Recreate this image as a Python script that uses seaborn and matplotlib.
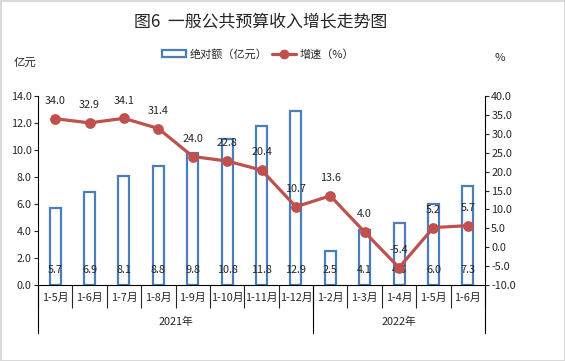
import numpy as np
import pandas as pd
import matplotlib
matplotlib.use("Agg")
import matplotlib.pyplot as plt
import matplotlib.transforms as mtransforms
from matplotlib.patches import Patch
from matplotlib.lines import Line2D
import seaborn as sns

# data
periods = ["1-5月", "1-6月", "1-7月", "1-8月", "1-9月", "1-10月", "1-11月", "1-12月",
           "1-2月", "1-3月", "1-4月", "1-5月", "1-6月"]
years = ["2021年", "2022年"]
year_counts = [8, 5]
amount = [5.7, 6.9, 8.1, 8.8, 9.8, 10.8, 11.8, 12.9, 2.5, 4.1, 4.6, 6.0, 7.3]
growth = [34.0, 32.9, 34.1, 31.4, 24.0, 22.8, 20.4, 10.7, 13.6, 4.0, -5.4, 5.2, 5.7]

# unique keys so repeated month labels stay separate categories
keys = [f"{i}" for i in range(len(periods))]
df = pd.DataFrame({"key": keys, "amount": amount, "growth": growth})

sns.set_style("ticks")
plt.rcParams["font.family"] = ["Noto Sans CJK SC", "DejaVu Sans"]
plt.rcParams["axes.unicode_minus"] = False

blue = "#4A7EBB"
red = "#C0504D"
fs = 7.8

fig = plt.figure(figsize=(5.65, 3.61), dpi=100)
fig.patch.set_edgecolor("#D9D9D9")
fig.patch.set_linewidth(2)
ax = fig.add_axes([0.0673, 0.2105, 0.7911, 0.5235])

# hollow bars
sns.barplot(data=df, x="key", y="amount", ax=ax, fill=False, color=blue,
            width=0.32, linewidth=1.6, errorbar=None)
for p in ax.patches:
    p.set_edgecolor(blue)

ax2 = ax.twinx()
sns.pointplot(data=df, x="key", y="growth", ax=ax2, color=red, markers="o",
              linestyles="-", linewidth=2.3, markersize=6, errorbar=None)

n = len(periods)
ax.set_xlim(-0.5, n - 0.5)
ax2.set_xlim(-0.5, n - 0.5)
ax.set_ylim(0, 14)
ax2.set_ylim(-10, 40)
ax.set_yticks(np.arange(0, 14.1, 2))
ax2.set_yticks(np.arange(-10, 40.1, 5))
ax.yaxis.set_major_formatter(matplotlib.ticker.FormatStrFormatter("%.1f"))
ax2.yaxis.set_major_formatter(matplotlib.ticker.FormatStrFormatter("%.1f"))
ax.set_xlabel("")
ax.set_ylabel("")
ax2.set_xlabel("")
ax2.set_ylabel("")

for a in (ax, ax2):
    a.spines["top"].set_visible(False)
    for s in a.spines.values():
        s.set_linewidth(0.8)
        s.set_color("black")
    a.tick_params(axis="y", labelsize=fs, length=3, width=0.8, pad=1.5)
ax2.spines["left"].set_visible(False)
ax2.spines["bottom"].set_visible(False)
ax.spines["right"].set_visible(False)

# category axis: labels and separators
ax.set_xticks(range(n))
ax.set_xticklabels(periods)
ax.tick_params(axis="x", which="major", length=0, labelsize=fs, pad=6)
ax.set_xticks(np.arange(-0.5, n, 1), minor=True)
ax.tick_params(axis="x", which="minor", length=16.5, width=0.8, direction="out")

trans = mtransforms.blended_transform_factory(ax.transData, ax.transAxes)
start = 0
bounds = [-0.5]
for yr, cnt in zip(years, year_counts):
    mid = start + (cnt - 1) / 2
    ax.text(mid, -0.196, yr, transform=trans, ha="center", va="center", fontsize=fs)
    start += cnt
    bounds.append(start - 0.5)
for b in bounds:
    ax.plot([b, b], [0, -0.254], transform=trans, color="black", lw=0.8, clip_on=False)

# value labels
for i, v in enumerate(amount):
    ax.text(i, 1.1, f"{v:.1f}", ha="center", va="center", fontsize=fs)
for i, g in enumerate(growth):
    ax2.annotate(f"{g:.1f}", (i, g), xytext=(0, 12.7), textcoords="offset points",
                 ha="center", va="center", fontsize=fs)

fig.text(0.462, 1 - 21 / 361, "图6  一般公共预算收入增长走势图", ha="center", va="center",
         fontsize=12.2)
fig.text(25 / 565, 1 - 63 / 361, "亿元", ha="center", va="center", fontsize=8.2)
fig.text(500 / 565, 1 - 58 / 361, "%", ha="center", va="center", fontsize=8.2)

handles = [Patch(facecolor="none", edgecolor=blue, linewidth=1.6),
           Line2D([], [], color=red, lw=2.3, marker="o", markersize=6)]
fig.legend(handles, ["绝对额（亿元）", "增速（%）"], loc="center",
           bbox_to_anchor=(0.457, 1 - 54 / 361), ncol=2, frameon=False,
           fontsize=8, handlelength=2.2, handletextpad=0.3, columnspacing=0.4)

fig.savefig("out.png", dpi=100)
